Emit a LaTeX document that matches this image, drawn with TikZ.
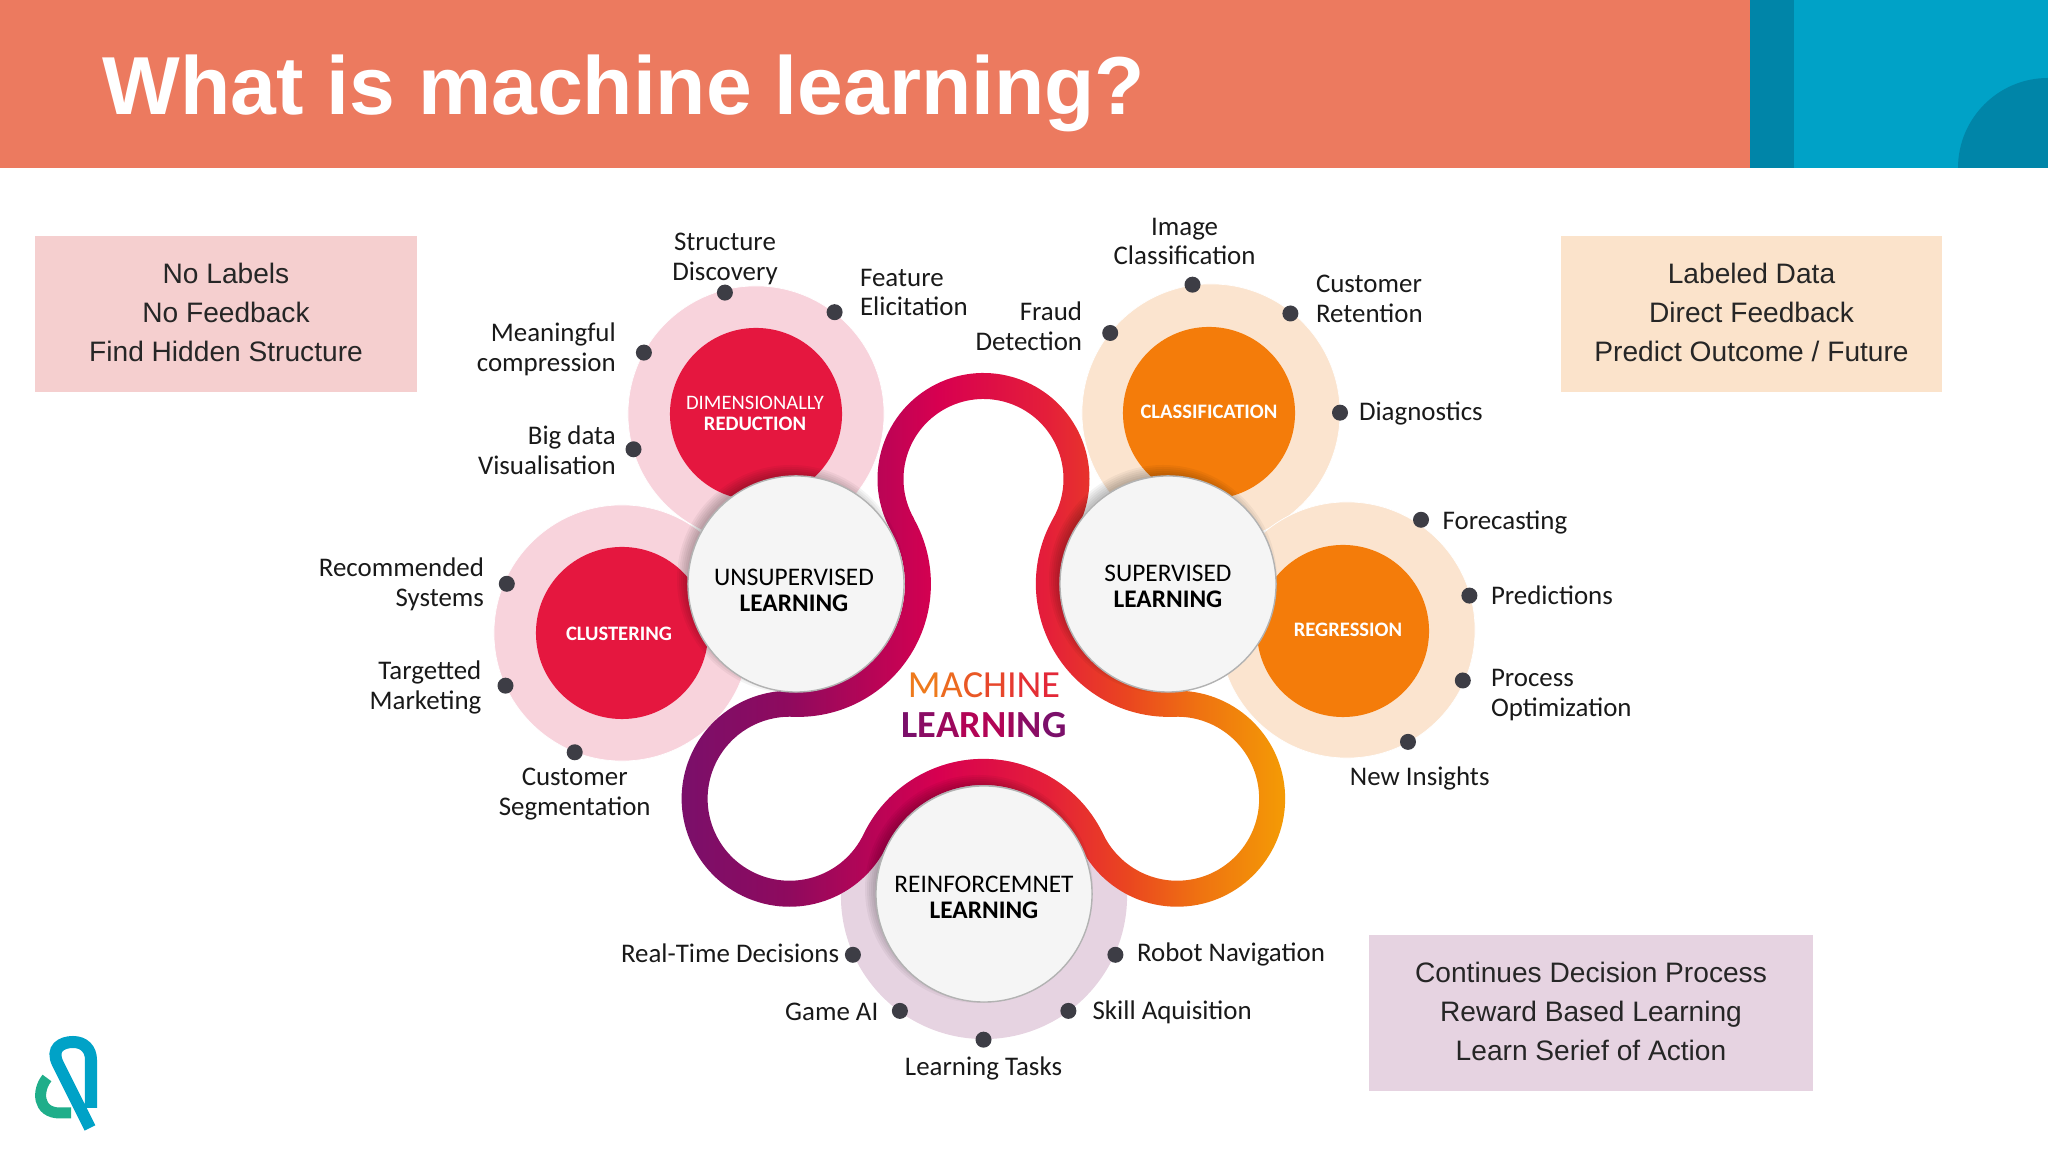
\documentclass[tikz,border=0pt]{standalone}
\usepackage{fontspec}
\setmainfont{Carlito}
\newfontfamily\headfont{Liberation Sans}
\usetikzlibrary{calc,positioning}
\definecolor{headorange}{HTML}{EC7A5F}
\definecolor{tealdark}{HTML}{0085A8}
\definecolor{teallight}{HTML}{00A2C7}
\definecolor{logogreen}{HTML}{1FAE8A}
\definecolor{pinkpale}{HTML}{F8D3DC}
\definecolor{redcore}{HTML}{E5173F}
\definecolor{orangepale}{HTML}{FBE4CF}
\definecolor{orangecore}{HTML}{F47C0A}
\definecolor{mauvepale}{HTML}{E6D3E1}
\definecolor{dotgrey}{HTML}{3D3D45}
\definecolor{boxpink}{HTML}{F5CFCF}
\definecolor{boxsand}{HTML}{FBE3CB}
\definecolor{ribA}{HTML}{7B0F6A}
\definecolor{ribB}{HTML}{8E0A5E}
\definecolor{ribC}{HTML}{D80050}
\definecolor{ribD}{HTML}{E41E3A}
\definecolor{ribE}{HTML}{EA4520}
\definecolor{ribF}{HTML}{EF7311}
\definecolor{ribG}{HTML}{F49A05}
\pgfdeclarehorizontalshading{ribbonshade}{100bp}{color(0bp)=(ribA); color(26.4bp)=(ribA); color(34.7bp)=(ribB); color(47bp)=(ribC); color(55.5bp)=(ribD); color(62bp)=(ribE); color(68bp)=(ribF); color(74.6bp)=(ribG); color(100bp)=(ribG)}
\tikzset{
    every node/.style={font=\fontsize{7.65}{8.45}\selectfont, inner sep=0pt},
    paledisc/.style={circle, draw=white, very thin, minimum size=2.56cm},
    coredisc/.style={circle, minimum size=1.72cm},
    coretext/.style={text=white, align=center, font=\fontsize{5.85}{6}\selectfont},
    hubdisc/.style={circle, fill=black!4, draw=black!30, thin, minimum size=2.16cm},
    hubtext/.style={align=center, text=black, font=\fontsize{7.2}{7.4}\selectfont},
    dotmark/.style={circle, fill=dotgrey, minimum size=0.16cm},
    lbl/.style={align=center, text=black!90},
    lblL/.style={anchor=east, align=right, text=black!90},
    lblR/.style={anchor=west, align=left, text=black!90},
    infobox/.style={minimum height=1.56cm, align=center, text=black!85, font=\headfont\fontsize{8}{11.15}\selectfont},
}
\begin{document}
\begin{tikzpicture}[x=0.01cm, y=0.01cm]
\useasboundingbox (0,0) rectangle (2048,1152);
% header band
\fill[headorange] (0,984) rectangle (1750,1152);
\fill[tealdark] (1750,984) rectangle (1794,1152);
\fill[teallight] (1794,984) rectangle (2048,1152);
\fill[tealdark] (1958,984) arc[start angle=180, end angle=90, radius=90] -- (2048,984) -- cycle;
\node[anchor=base west, text=white, font=\headfont\bfseries\fontsize{23.4}{29}\selectfont] (title) at (102,1037) {What is machine learning?};
% pale discs
\node[paledisc, fill=pinkpale] (dimpale) at (756,738) {};
\node[paledisc, fill=pinkpale] (clupale) at (622,519) {};
\node[paledisc, fill=orangepale, minimum size=2.58cm] (clapale) at (1211,739) {};
\node[paledisc, fill=orangepale] (regpale) at (1347,522) {};
\node[circle, fill=mauvepale, minimum size=2.86cm] (reipale) at (984,256) {};
% core discs
\node[coredisc, fill=redcore] (dim) at (756,738) {};
\node[coredisc, fill=redcore] (clu) at (622,519) {};
\node[coredisc, fill=orangecore] (cla) at (1209,739) {};
\node[coredisc, fill=orangecore] (reg) at (1343,521) {};
\node[coretext] (dimtxt) at ($(dim)+(-1,1)$) {DIMENSIONALLY\\\textbf{REDUCTION}};
\node[coretext] (clutxt) at ($(clu)+(-3,-1)$) {\textbf{CLUSTERING}};
\node[coretext] (clatxt) at ($(cla)+(0,1)$) {\textbf{CLASSIFICATION}};
\node[coretext] (regtxt) at ($(reg)+(5,1)$) {\textbf{REGRESSION}};
% ribbon, arcs touching each other
\coordinate (lobeT) at (983.5,673);
\def\innerribbon{($(lobeT)+(209.51:80)$) arc[start angle=209.51, end angle=-29.51, radius=80]
  arc[start angle=150.49, end angle=272.21, radius=133]
  arc[start angle=92.21, end angle=-154.32, radius=82]
  arc[start angle=25.68, end angle=154.32, radius=133]
  arc[start angle=-25.68, end angle=-272.21, radius=82]
  arc[start angle=-92.21, end angle=29.51, radius=133] -- cycle}
% nothing pale shows inside the ribbon
\fill[white] \innerribbon;
\shade[shading=ribbonshade, even odd rule]
  ($(lobeT)+(209.51:106)$) arc[start angle=209.51, end angle=-29.51, radius=106]
  arc[start angle=150.49, end angle=272.21, radius=107]
  arc[start angle=92.21, end angle=-154.32, radius=108]
  arc[start angle=25.68, end angle=154.32, radius=107]
  arc[start angle=-25.68, end angle=-272.21, radius=108]
  arc[start angle=-92.21, end angle=29.51, radius=107] -- cycle
  \innerribbon;
% soft shadow round the hubs
\foreach \c in {{796,568},{1168,568},{984,258}}
  \foreach \r in {104,106,...,114}
    \fill[black, opacity=0.045] ($(\c)+(-5,5)$) circle[radius=\r];
% hubs
\node[hubdisc] (unsup) at (796,568) {};
\node[hubdisc] (sup) at (1168,568) {};
\node[hubdisc] (rei) at (984,258) {};
\node[hubtext] (unsuptxt) at ($(unsup)+(-2,-6)$) {UNSUPERVISED\\\textbf{LEARNING}};
\node[hubtext] (suptxt) at ($(sup)+(0,-2)$) {SUPERVISED\\\textbf{LEARNING}};
\node[hubtext] (reitxt) at ($(rei)+(0,-3)$) {REINFORCEMNET\\\textbf{LEARNING}};
% centre title
\node[align=center, font=\fontsize{10.9}{11.4}\selectfont] (mltitle) at (984,447) {%
\textcolor[HTML]{EE7A1C}{M}\textcolor[HTML]{EC6A20}{A}\textcolor[HTML]{E95826}{C}\textcolor[HTML]{E7472B}{H}\textcolor[HTML]{E63A30}{I}\textcolor[HTML]{E42F34}{N}\textcolor[HTML]{E32838}{E}\\
\textbf{\textcolor[HTML]{7B0F6A}{L}\textcolor[HTML]{8A0C64}{E}\textcolor[HTML]{9C085C}{A}\textcolor[HTML]{B20455}{R}\textcolor[HTML]{B20455}{N}\textcolor[HTML]{A00759}{I}\textcolor[HTML]{8A0C64}{N}\textcolor[HTML]{7B0F6A}{G}}};
% side boxes
\node[infobox, fill=boxpink, minimum width=3.82cm] (nolabels) at (226,838) {\raisebox{1pt}{No Labels}\\\raisebox{1pt}{No Feedback}\\\raisebox{1pt}{Find Hidden Structure}};
\node[infobox, fill=boxsand, minimum width=3.81cm] (labeled) at (1751.5,838) {\raisebox{1pt}{Labeled Data}\\\raisebox{1pt}{Direct Feedback}\\\raisebox{1pt}{Predict Outcome / Future}};
\node[infobox, fill=mauvepale, minimum width=4.44cm] (continues) at (1591,139) {\raisebox{1pt}{Continues Decision Process}\\\raisebox{1pt}{Reward Based Learning}\\\raisebox{1pt}{Learn Serief of Action}};
% dots
\node[dotmark] (dsd) at (724.9,859.4) {};
\node[dotmark] (dfe) at (834.6,839.8) {};
\node[dotmark] (dmc) at (643.9,799.4) {};
\node[dotmark] (dbd) at (633.5,702.7) {};
\node[dotmark] (drs) at (506.8,568.2) {};
\node[dotmark] (dtm) at (505.5,466.3) {};
\node[dotmark] (dcs) at (574.7,399.7) {};
\node[dotmark] (dic) at (1192.5,867.3) {};
\node[dotmark] (dcr) at (1290.4,838.5) {};
\node[dotmark] (dfd) at (1110.2,819) {};
\node[dotmark] (ddi) at (1340,739.3) {};
\node[dotmark] (dfc) at (1421,632.2) {};
\node[dotmark] (dpr) at (1469.4,556.4) {};
\node[dotmark] (dpo) at (1462.8,471.5) {};
\node[dotmark] (dni) at (1408,410.1) {};
\node[dotmark] (drt) at (852.9,197.2) {};
\node[dotmark] (dga) at (899.9,141.1) {};
\node[dotmark] (dlt) at (983.5,112.3) {};
\node[dotmark] (drn) at (1115.4,197.2) {};
\node[dotmark] (dsa) at (1068.4,141.1) {};
% labels
\node[lbl] (lsd) at (725,892.7) {Structure\\Discovery};
\node[lblR] (lfe) at (859.4,859.4) {Feature\\Elicitation};
\node[lblL] (lmc) at (616.5,802.6) {Meaningful\\compression};
\node[lblL] (lbd) at (616.5,701.4) {Big data\\Visualisation};
\node[lblL] (lrs) at (484.6,567.5) {Recommended\\Systems};
\node[lblL] (ltm) at (482,464.5) {Targetted\\Marketing};
\node[lbl] (lcs) at (574.7,357.9) {Customer\\Segmentation};
\node[lbl] (lic) at (1184.6,910.4) {Image\\Classification};
\node[lblR] (lcr) at (1315.3,853) {Customer\\Retention};
\node[lblL] (lfd) at (1082.8,825.5) {Fraud\\Detection};
\node[lblR] (ldi) at (1358.3,738) {Diagnostics};
\node[lblR] (lfc) at (1441.9,629.6) {Forecasting};
\node[lblR] (lpr) at (1490.3,556.4) {Predictions};
\node[lblR] (lpo) at (1490.3,457.2) {Process\\Optimization};
\node[lbl] (lni) at (1419.7,373.7) {New Insights};
\node[lblL] (lrt) at (839.8,198.5) {Real-Time Decisions};
\node[lblL] (lga) at (879,139.8) {Game AI};
\node[lbl] (llt) at (983.5,83.6) {Learning Tasks};
\node[lblR] (lrn) at (1136.3,197.2) {Robot Navigation};
\node[lblR] (lsa) at (1091.9,139.8) {Skill Aquisition};
% logo
\draw[logogreen, line width=0.11cm] (47,74) .. controls (37,62) and (37,39) .. (60,39) -- (71,39);
\draw[teallight, line width=0.12cm] (90,24) -- (58,88) .. controls (50,104) and (62,110) .. (73,110) .. controls (84,110) and (91,103) .. (91,92) -- (91,44);
\end{tikzpicture}
\end{document}
